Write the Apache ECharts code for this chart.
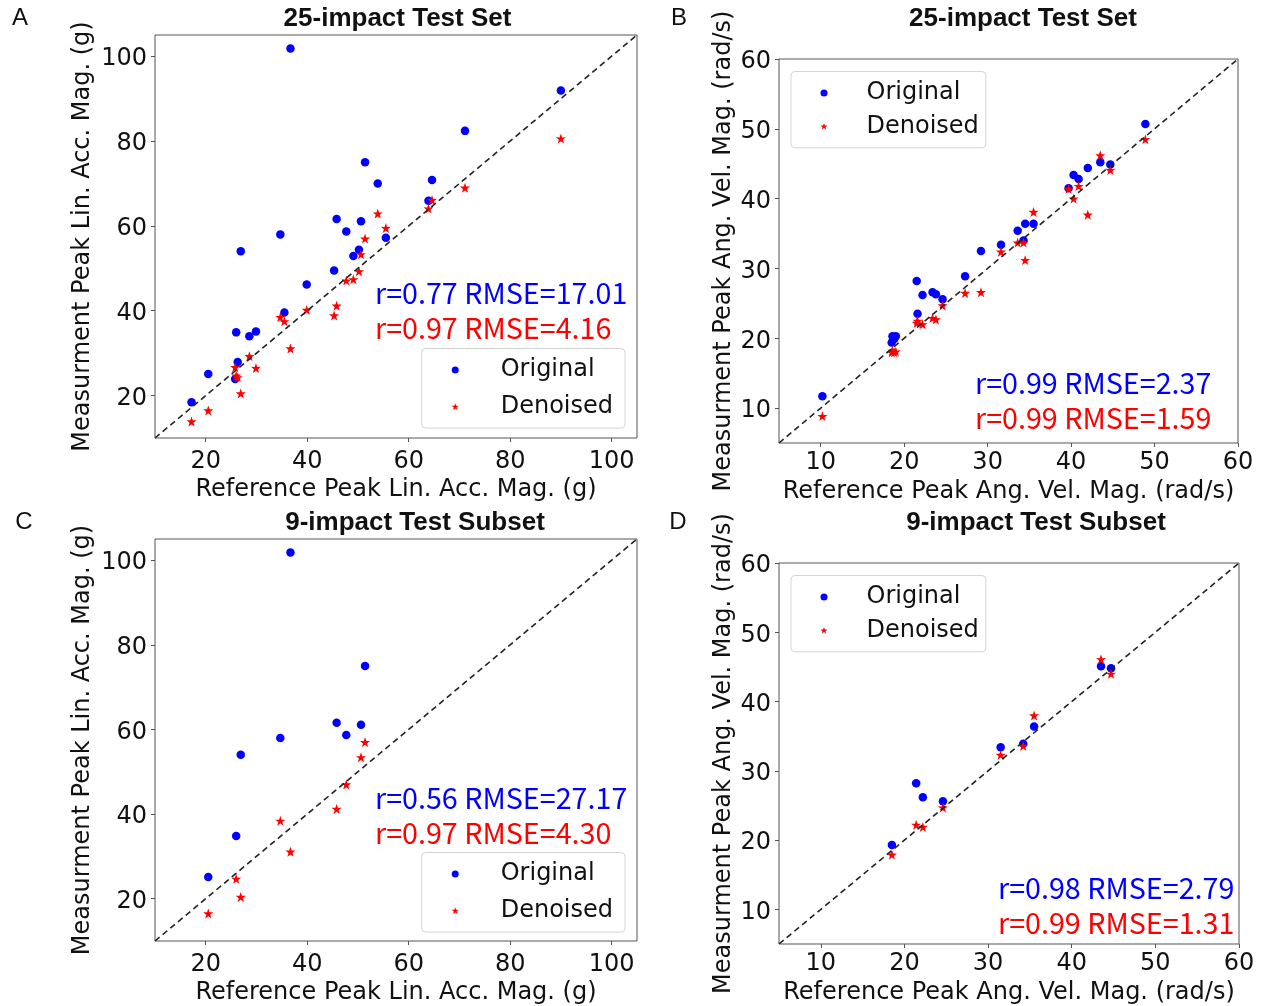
<!DOCTYPE html>
<html><head><meta charset="utf-8">
<script src="https://cdn.jsdelivr.net/npm/echarts@6/dist/echarts.min.js"></script>
<style>html,body{margin:0;padding:0;background:#fff}#c{width:1263px;height:1006px}</style>
</head><body><div id="c"></div>
<script>
// ---- Panel A: 25-impact, linear acceleration (g)
const refA = [36.7, 51.4, 53.9, 45.8, 50.6, 47.7, 34.7, 55.5, 26.9, 50.2, 49.1, 45.3, 39.9, 35.5, 26.0, 28.6, 29.9, 26.3, 25.8, 20.5, 17.2, 90.0, 71.1, 64.6, 63.9];
const origA = [101.8, 75.0, 70.0, 61.6, 61.1, 58.7, 58.0, 57.2, 54.0, 54.4, 52.9, 49.5, 46.2, 39.6, 34.9, 34.0, 35.1, 27.9, 23.9, 25.1, 18.4, 91.9, 82.4, 70.8, 65.9];
const denA  = [31.1, 57.0, 62.9, 41.2, 53.3, 47.1, 38.5, 59.5, 20.5, 49.3, 47.4, 38.9, 40.2, 37.5, 24.7, 29.3, 26.5, 24.3, 26.7, 16.5, 13.9, 80.6, 69.0, 66.1, 64.1];
// ---- Panel B: 25-impact, angular velocity (rad/s)
const refB = [10.2, 18.5, 18.6, 18.8, 19.0, 21.5, 21.6, 22.2, 23.4, 23.8, 24.6, 27.3, 29.2, 31.6, 33.6, 34.3, 34.5, 35.5, 39.7, 40.3, 40.9, 42.0, 43.5, 44.7, 48.9];
const origB = [11.7, 19.4, 20.3, 19.9, 20.3, 28.2, 23.5, 26.2, 26.6, 26.3, 25.6, 28.9, 32.5, 33.4, 35.4, 34.0, 36.4, 36.4, 41.5, 43.4, 42.8, 44.4, 45.2, 44.9, 50.7];
const denB  = [8.85, 18.0, 18.2, 18.0, 18.1, 22.2, 22.5, 22.0, 22.9, 22.7, 24.7, 26.5, 26.6, 32.4, 33.7, 33.7, 31.2, 38.1, 41.4, 40.0, 41.8, 37.7, 46.2, 44.1, 48.5];
// ---- Panel C: 9-impact subset, linear acceleration (g)
const refC = [36.7, 51.4, 45.8, 50.6, 47.7, 34.7, 26.9, 26.0, 20.5];
const origC = [101.8, 75.0, 61.6, 61.1, 58.7, 58.0, 54.0, 34.8, 25.1];
const denC  = [31.1, 57.0, 41.2, 53.4, 47.0, 38.4, 20.4, 24.7, 16.5];
// ---- Panel D: 9-impact subset, angular velocity (rad/s)
const refD = [18.5, 21.4, 22.2, 24.6, 31.5, 34.2, 35.5, 43.5, 44.7];
const origD = [19.3, 28.2, 26.2, 25.6, 33.4, 33.9, 36.4, 45.1, 44.8];
const denD  = [17.9, 22.2, 21.9, 24.7, 32.3, 33.6, 38.0, 46.1, 44.0];

const linRange = [10, 105];
const angRange = [5, 60];
const linTicks = [20, 40, 60, 80, 100];
const angTicks = [10, 20, 30, 40, 50, 60];

const titles = ['25-impact Test Set', '25-impact Test Set', '9-impact Test Subset', '9-impact Test Subset'];
const letters = ['A', 'B', 'C', 'D'];
const statsOrig = ['r=0.77 RMSE=17.01', 'r=0.99 RMSE=2.37', 'r=0.56 RMSE=27.17', 'r=0.98 RMSE=2.79'];
const statsDen  = ['r=0.97 RMSE=4.16', 'r=0.99 RMSE=1.59', 'r=0.97 RMSE=4.30', 'r=0.99 RMSE=1.31'];
const xNames = ['Reference Peak Lin. Acc. Mag. (g)', 'Reference Peak Ang. Vel. Mag. (rad/s)', 'Reference Peak Lin. Acc. Mag. (g)', 'Reference Peak Ang. Vel. Mag. (rad/s)'];
const yNames = ['Measurment Peak Lin. Acc. Mag. (g)', 'Measurment Peak Ang. Vel. Mag. (rad/s)', 'Measurment Peak Lin. Acc. Mag. (g)', 'Measurment Peak Ang. Vel. Mag. (rad/s)'];

const STAR = 'path://M50,0 L61.8,35.1 L97.6,34.5 L69.1,56.7 L79.4,90.5 L50,70 L20.6,90.5 L30.9,56.7 L2.4,34.5 L38.2,35.1 Z';
const FONT = 'DejaVu Sans';
const BLUE = '#0000ff', RED = '#ff0000';

const panels = [
  {ref: refA, orig: origA, den: denA, range: linRange, ticks: linTicks,
   grid: {left: 155, top: 35, width: 482, height: 403}, xGap: 40, yGap: 60, xMargin: 12,
   legend: {left: 421.7, top: 348.5, gap: 7.6, pad: [7, 12, 7, 30], tpad: 37},
   stat: {x: 375, y1: 293, y2: 328}, title: {x: 397.5, y: 18}, letter: {x: 20, y: 18}},
  {ref: refB, orig: origB, den: denB, range: angRange, ticks: angTicks,
   grid: {left: 779, top: 59, width: 459, height: 384}, xGap: 37, yGap: 43, xMargin: 8,
   legend: {left: 791, top: 71.5, gap: 4.3, pad: [7, 7, 7, 29.5], tpad: 34},
   stat: {x: 975, y1: 383.5, y2: 418.5}, title: {x: 1023, y: 18}, letter: {x: 679, y: 18}},
  {ref: refC, orig: origC, den: denC, range: linRange, ticks: linTicks,
   grid: {left: 155, top: 539, width: 482, height: 403}, xGap: 40, yGap: 60, xMargin: 12,
   legend: {left: 421.7, top: 852.5, gap: 7.6, pad: [7, 12, 7, 30], tpad: 37},
   stat: {x: 375, y1: 798, y2: 833}, title: {x: 415, y: 522}, letter: {x: 24, y: 522}},
  {ref: refD, orig: origD, den: denD, range: angRange, ticks: angTicks,
   grid: {left: 779, top: 563, width: 460, height: 383}, xGap: 37, yGap: 43, xMargin: 8,
   legend: {left: 791, top: 575.5, gap: 4.3, pad: [7, 7, 7, 29.5], tpad: 34},
   stat: {x: 998, y1: 888, y2: 923}, title: {x: 1036, y: 522}, letter: {x: 678, y: 522}}
];

const grid = [], xAxis = [], yAxis = [], series = [], legend = [], graphic = [];
panels.forEach((p, i) => {
  grid.push(Object.assign({show: true, borderColor: '#555', borderWidth: 1, backgroundColor: '#fff'}, p.grid));
  const axBase = (gapName, name, labelExtra) => ({
    gridIndex: i, type: 'value', min: p.range[0], max: p.range[1],
    name: name, nameLocation: 'middle', nameGap: gapName,
    nameTextStyle: {fontFamily: FONT, fontSize: 24, color: '#111'},
    axisLine: {show: false},
    axisTick: {show: true, length: 4, inside: false, customValues: p.ticks, lineStyle: {color: '#555'}},
    axisLabel: Object.assign({show: true, customValues: p.ticks, fontFamily: FONT, fontSize: 24, color: '#111'}, labelExtra),
    splitLine: {show: false}
  });
  xAxis.push(axBase(p.xGap, xNames[i], {margin: p.xMargin}));
  yAxis.push(axBase(p.yGap, yNames[i], {margin: 8, verticalAlign: 'top', lineHeight: 6}));
  series.push({
    name: 'Original', type: 'scatter', xAxisIndex: i, yAxisIndex: i, z: 2,
    symbol: 'circle', symbolSize: 8.5, itemStyle: {color: BLUE, opacity: 1},
    data: p.ref.map((x, k) => [x, p.orig[k]])
  });
  series.push({
    name: 'Denoised', type: 'scatter', xAxisIndex: i, yAxisIndex: i, z: 3,
    symbol: STAR, symbolSize: 10, itemStyle: {color: RED, opacity: 1},
    data: p.ref.map((x, k) => [x, p.den[k]])
  });
  series.push({
    name: 'identity', type: 'line', xAxisIndex: i, yAxisIndex: i, z: 4, silent: true,
    symbol: 'none', lineStyle: {color: '#222', width: 1.6, type: [6, 4]},
    data: [[p.range[0], p.range[0]], [p.range[1], p.range[1]]]
  });
  legend.push({
    orient: 'vertical', left: p.legend.left, top: p.legend.top,
    itemWidth: 7, itemHeight: 7, itemGap: p.legend.gap, padding: p.legend.pad,
    backgroundColor: '#fff', borderColor: '#d4d4d4', borderWidth: 1, borderRadius: 4,
    selectedMode: false,
    textStyle: {fontFamily: FONT, fontSize: 24, color: '#111', lineHeight: 29, padding: [0, 0, 0, p.legend.tpad]},
    data: [{name: 'Original', icon: 'circle', itemStyle: {opacity: 1}}, {name: 'Denoised', icon: STAR, itemStyle: {opacity: 1}}]
  });
  graphic.push({type: 'text', x: p.stat.x, y: p.stat.y1, z: 100,
    style: {text: statsOrig[i], fill: BLUE, font: '28.7px "Noto Sans CJK SC"', align: 'left', verticalAlign: 'middle'}});
  graphic.push({type: 'text', x: p.stat.x, y: p.stat.y2, z: 100,
    style: {text: statsDen[i], fill: RED, font: '28.7px "Noto Sans CJK SC"', align: 'left', verticalAlign: 'middle'}});
  graphic.push({type: 'text', x: p.title.x, y: p.title.y + 1, z: 100,
    style: {text: titles[i], fill: '#111', font: 'bold 26px "Liberation Sans Narrow", "Liberation Sans"', align: 'center', verticalAlign: 'middle'}});
  graphic.push({type: 'text', x: p.letter.x, y: p.letter.y, z: 100,
    style: {text: letters[i], fill: '#111', font: '24px "Liberation Sans"', align: 'center', verticalAlign: 'middle'}});
});

const chart = echarts.init(document.getElementById('c'), null, {renderer: 'canvas'});
chart.setOption({animation: false, backgroundColor: '#fff', grid, xAxis, yAxis, series, legend, graphic});
</script>
</body></html>
